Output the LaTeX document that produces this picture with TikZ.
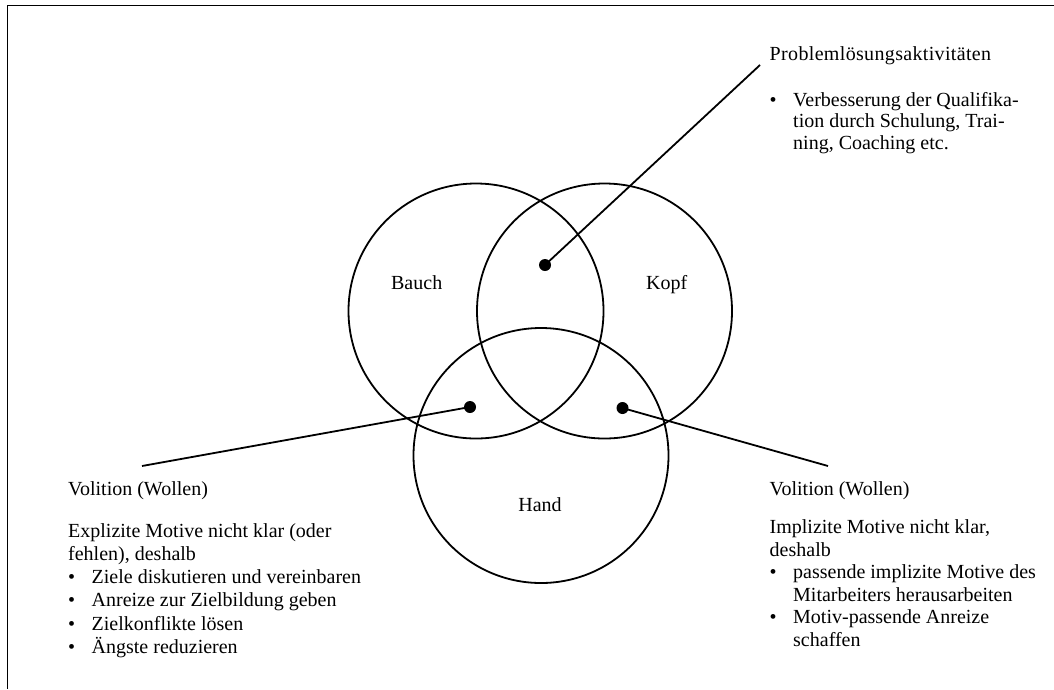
\documentclass[tikz,border=0pt]{standalone}
\usepackage{fontspec}
\setmainfont{Liberation Serif}
\newcommand\bulL{\makebox[23.5pt][l]{•}}
\newcommand\indL{\hspace*{23.5pt}}
\begin{document}
\begin{tikzpicture}[x=1pt,y=-1pt,
  ring/.style={circle,draw,line width=1.8pt,minimum size=255pt,inner sep=0pt},
  dot/.style={circle,fill,inner sep=0pt,minimum size=12pt},
  lead/.style={line width=1.8pt},
  lbl/.style={font=\fontsize{20}{23.3}\selectfont,inner sep=0pt,anchor=base},
  txt/.style={align=left,inner sep=0pt,anchor=north west}]
\useasboundingbox (0,0) rectangle (1054,689);
\draw[line width=1.8pt] (1054,5.5) -- (7.5,5.5) -- (7.5,689);
% circles
\node[ring] (bauch) at (476,311) {};
\node[ring] (kopf) at (604.5,311) {};
\node[ring] (hand) at (541,455.5) {};
% labels
\node[lbl] (lbauch) at (416.7,289.5) {Bauch};
\node[lbl] (lkopf) at (666.7,289.5) {Kopf};
\node[lbl] (lhand) at (540,511.7) {Hand};
% dots
\node[dot] (dtop) at (545,265) {};
\node[dot] (dleft) at (470,407) {};
\node[dot] (dright) at (622.5,408) {};
% leader ends
\coordinate (etop) at (760,65);
\coordinate (eleft) at (142,466);
\coordinate (eright) at (828,466);
\draw[lead] (dtop.center) -- (etop);
\draw[lead] (dleft.center) -- (eleft);
\draw[lead] (dright.center) -- (eright);
% texts
\node[txt,font=\fontsize{20}{21.5}\selectfont] (ttop) at (769.5,45) {\strut{\addfontfeature{LetterSpace=1.7}Problemlösungsaktivitäten}\\[24.5pt]
\bulL Verbesserung der Qualifika-\\
\indL tion durch Schulung, Trai-\\
\indL ning, Coaching etc.};
\node[txt,font=\fontsize{20}{23.3}\selectfont] (tleft) at (68,478.7) {\strut Volition (Wollen)\\[18.5pt]
Explizite Motive nicht klar (oder\\
fehlen), deshalb\\
\bulL Ziele diskutieren und vereinbaren\\
\bulL Anreize zur Zielbildung geben\\
\bulL Zielkonflikte lösen\\
\bulL Ängste reduzieren};
\node[txt,font=\fontsize{20}{22.6}\selectfont] (tright) at (769.5,479.2) {\strut Volition (Wollen)\\[15.7pt]
Implizite Motive nicht klar,\\
deshalb\\
\bulL passende implizite Motive des\\
\indL Mitarbeiters herausarbeiten\\
\bulL Motiv-passende Anreize\\
\indL schaffen};
\end{tikzpicture}
\end{document}
